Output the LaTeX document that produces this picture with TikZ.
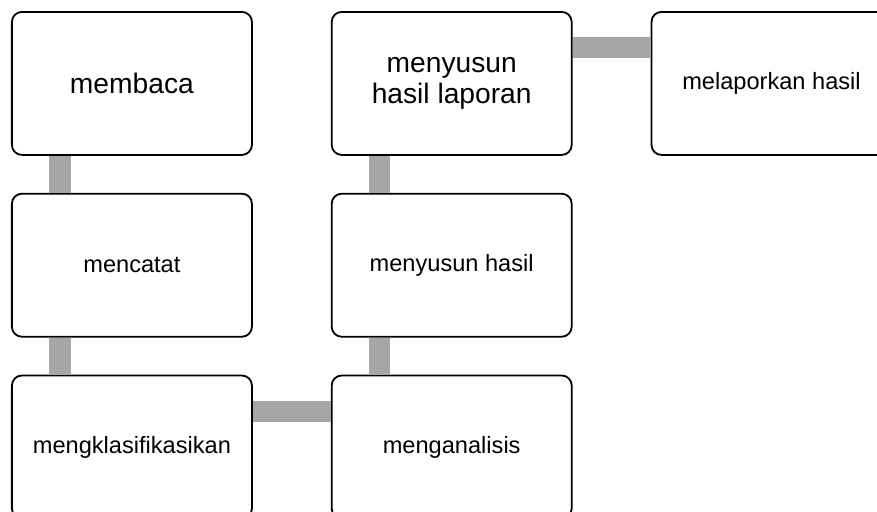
\documentclass[tikz,border=0pt]{standalone}
\usepackage{fontspec}
\setmainfont{Liberation Sans}
\usepackage{tikz}
\usetikzlibrary{positioning}
\definecolor{barcol}{HTML}{A6A6A6}
\newcommand{\smalltext}{\fontsize{11.8}{13.5}\selectfont}
\newcommand{\bigtext}{\fontsize{14.1}{15.5}\selectfont}
\tikzstyle{stepbox}=[draw, rounded corners=5pt, line width=0.9pt, minimum width=120pt, minimum height=71.5pt, align=center, font=\smalltext]
\tikzstyle{bar}=[draw=barcol, line width=10.5pt]

\begin{document}
\begin{tikzpicture}[node distance=18.5pt and 39pt]
            \useasboundingbox (-5.5pt,5.5pt) rectangle (433pt,-250pt);

            \node[stepbox, anchor=north west, font=\bigtext] (membaca) at (0,0) {membaca};
            \node[stepbox, below=of membaca] (mencatat) {mencatat};
            \node[stepbox, below=of mencatat] (klasifikasi) {mengklasifikasikan};
            \node[stepbox, right=of klasifikasi] (analisis) {menganalisis};
            \node[stepbox, above=of analisis] (hasil) {menyusun hasil};
            \node[stepbox, above=of hasil, font=\bigtext] (laporan) {menyusun\\hasil laporan};
            \node[stepbox, right=of laporan] (melapor) {melaporkan hasil};

            \draw[bar] ([xshift=24.5pt]membaca.south west) -- ([xshift=24.5pt]mencatat.north west);
            \draw[bar] ([xshift=24.5pt]mencatat.south west) -- ([xshift=24.5pt]klasifikasi.north west);
            \draw[bar] ([yshift=-18.25pt]klasifikasi.north east) -- ([yshift=-18.25pt]analisis.north west);
            \draw[bar] ([xshift=24.5pt]analisis.north west) -- ([xshift=24.5pt]hasil.south west);
            \draw[bar] ([xshift=24.5pt]hasil.north west) -- ([xshift=24.5pt]laporan.south west);
            \draw[bar] ([yshift=-18.25pt]laporan.north east) -- ([yshift=-18.25pt]melapor.north west);
        \end{tikzpicture}
\end{document}
